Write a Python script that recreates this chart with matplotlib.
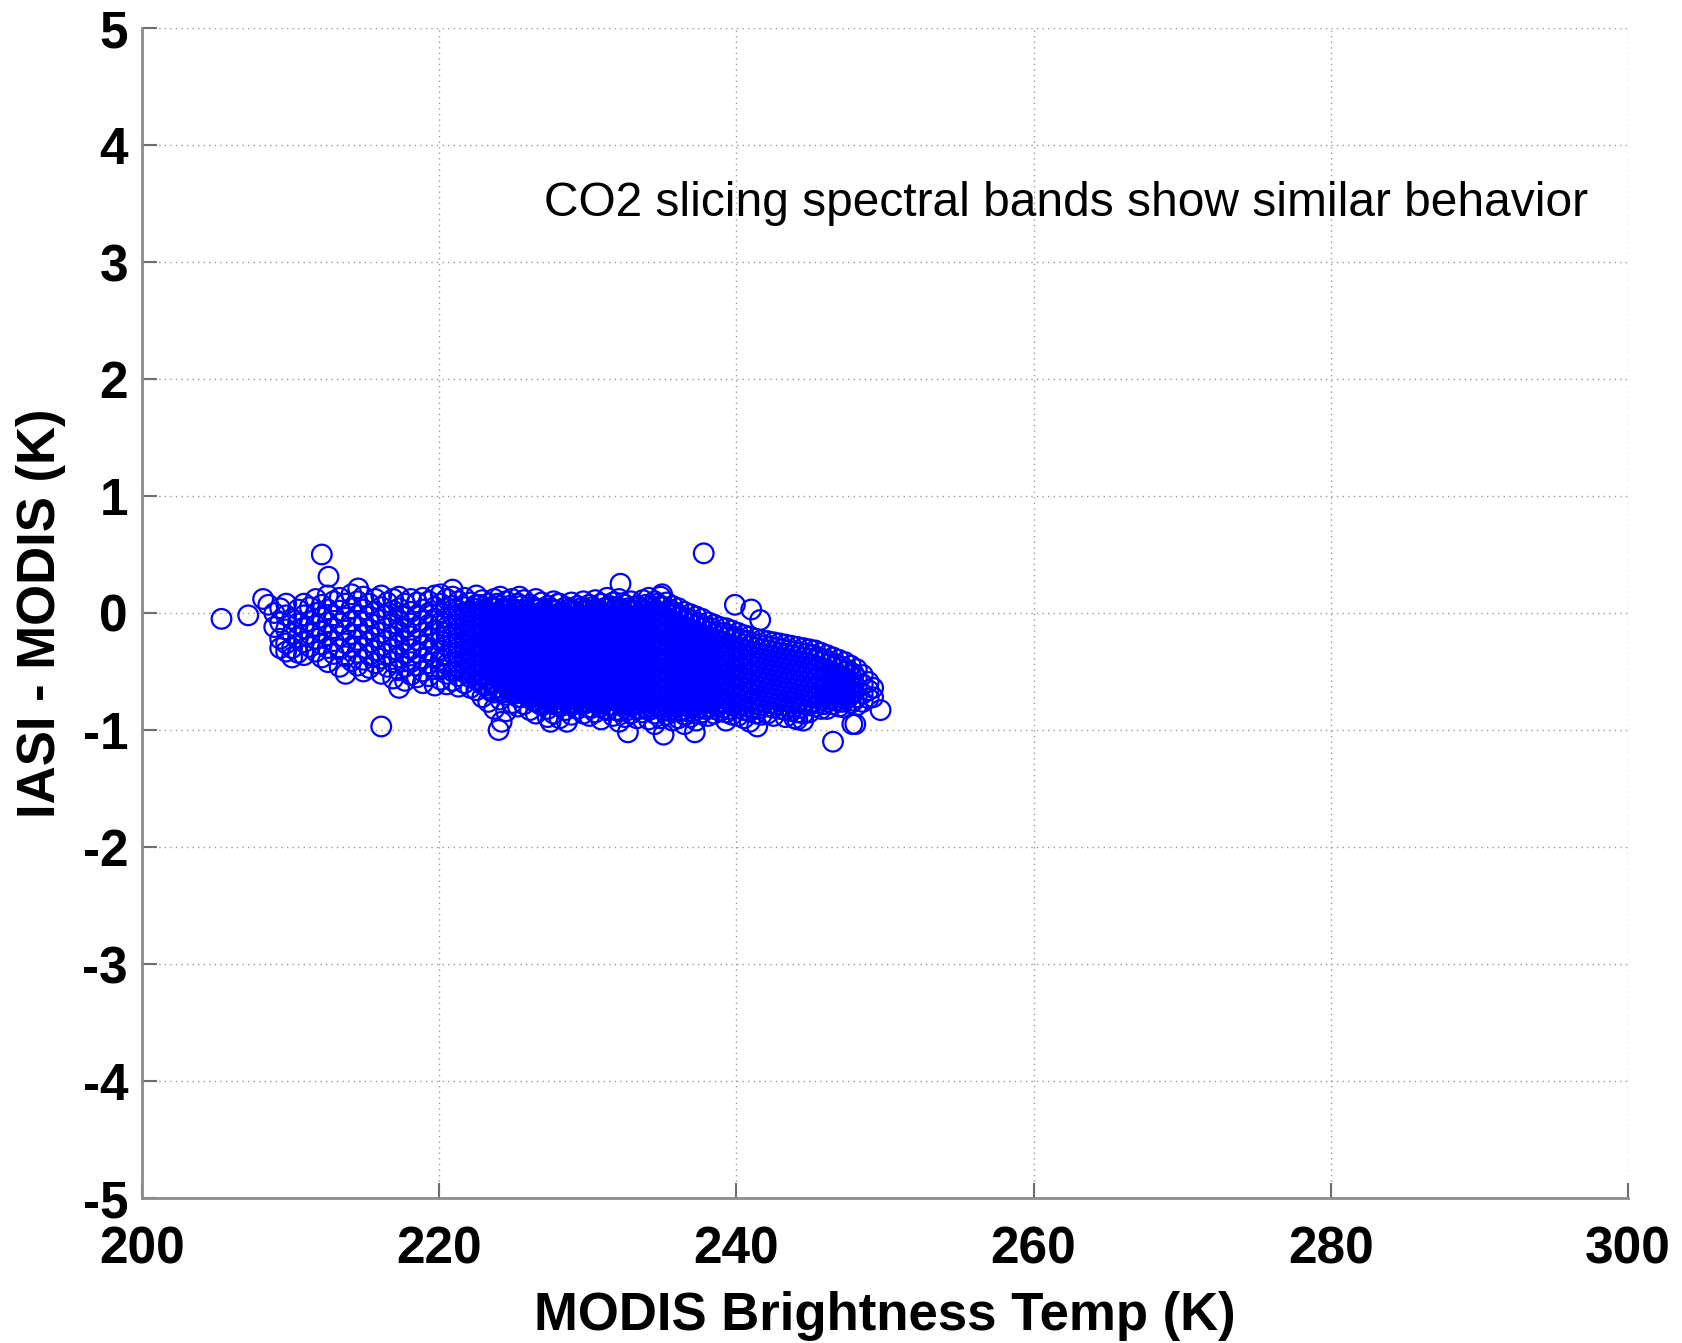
import numpy as np
import matplotlib
matplotlib.use("Agg")
import matplotlib.pyplot as plt

# ---------------------------------------------------------------
# IASI minus MODIS brightness-temperature differences (K)
# ---------------------------------------------------------------

# isolated samples around the main cloud
lone_bt = [205.35, 207.15, 208.15, 208.5, 212.1, 212.55, 214.55, 216.1,
           224.0, 224.2, 232.2, 237.8, 239.9, 241.0, 241.6, 235.1, 237.2,
           232.7, 246.5, 249.7, 248.0, 244.5, 241.4, 227.5, 228.6, 220.9,
           235.0, 225.4, 228.0, 243.9, 247.8]
lone_dif = [-0.05, -0.02, 0.12, 0.07, 0.50, 0.31, 0.21, -0.97,
            -1.00, -0.93, 0.25, 0.51, 0.07, 0.03, -0.06, -1.04, -1.02,
            -1.02, -1.10, -0.83, -0.95, -0.92, -0.97, -0.93, -0.93, 0.20,
            0.16, 0.14, 0.08, -0.90, -0.95]

# cold end of the distribution (208.9 - 219.7 K), one column per MODIS BT
west_bt = [208.9, 209.3, 209.7, 210.1, 210.5, 210.9, 211.3, 211.7, 212.1,
           212.5, 212.9, 213.3, 213.7, 214.1, 214.5, 214.9, 215.3, 215.7,
           216.1, 216.5, 216.9, 217.3, 217.7, 218.1, 218.5, 218.9, 219.3,
           219.7]
west_dif = [
    [0.00, -0.12],
    [0.04, -0.08, -0.22, -0.30],
    [0.08, -0.02, -0.14, -0.26, -0.33],
    [-0.05, -0.18, -0.30, -0.38],
    [0.03, -0.09, -0.21, -0.34],
    [0.08, -0.02, -0.13, -0.25, -0.36],
    [0.05, -0.07, -0.18, -0.29],
    [0.12, 0.00, -0.11, -0.22, -0.33],
    [0.07, -0.04, -0.16, -0.27, -0.38],
    [0.15, 0.03, -0.08, -0.19, -0.30, -0.42],
    [0.10, -0.02, -0.13, -0.24, -0.35],
    [0.13, 0.02, -0.09, -0.20, -0.31, -0.46],
    [0.08, -0.04, -0.15, -0.26, -0.37, -0.52],
    [0.16, 0.04, -0.07, -0.18, -0.29, -0.41],
    [0.10, -0.02, -0.12, -0.23, -0.34, -0.45],
    [0.14, 0.03, -0.08, -0.19, -0.30, -0.40, -0.50],
    [0.08, -0.03, -0.14, -0.25, -0.36, -0.47],
    [0.12, 0.01, -0.10, -0.21, -0.32, -0.43],
    [0.15, 0.05, -0.06, -0.17, -0.28, -0.39, -0.52],
    [0.09, -0.02, -0.13, -0.24, -0.35, -0.46],
    [0.12, 0.02, -0.09, -0.20, -0.31, -0.42, -0.56],
    [0.14, 0.04, -0.06, -0.16, -0.27, -0.38, -0.49, -0.64],
    [0.08, -0.03, -0.13, -0.24, -0.35, -0.46, -0.58],
    [0.12, 0.01, -0.09, -0.20, -0.31, -0.42, -0.53],
    [0.09, -0.02, -0.12, -0.23, -0.34, -0.45, -0.55],
    [0.13, 0.03, -0.07, -0.17, -0.28, -0.39, -0.50, -0.60],
    [0.10, 0.00, -0.10, -0.21, -0.32, -0.43, -0.54],
    [0.15, 0.05, -0.05, -0.15, -0.26, -0.37, -0.48, -0.62],
]

# middle of the distribution (220.1 - 234.9 K)
mid_bt = [220.1, 220.5, 220.9, 221.3, 221.7, 222.1, 222.5, 222.9, 223.3,
          223.7, 224.1, 224.5, 224.9, 225.3, 225.7, 226.1, 226.5, 226.9,
          227.3, 227.7, 228.1, 228.5, 228.9, 229.3, 229.7, 230.1, 230.5,
          230.9, 231.3, 231.7, 232.1, 232.5, 232.9, 233.3, 233.7, 234.1,
          234.5, 234.9]
mid_dif = [
    [0.16, 0.08, 0.00, -0.08, -0.16, -0.24, -0.32, -0.40, -0.48, -0.57],
    [0.12, 0.04, -0.04, -0.12, -0.20, -0.28, -0.36, -0.44, -0.52, -0.61],
    [0.14, 0.06, -0.02, -0.10, -0.18, -0.26, -0.34, -0.42, -0.50, -0.58],
    [0.10, 0.02, -0.06, -0.14, -0.22, -0.30, -0.38, -0.46, -0.54, -0.63],
    [0.13, 0.05, -0.03, -0.11, -0.19, -0.27, -0.35, -0.43, -0.51, -0.60],
    [0.09, 0.01, -0.07, -0.15, -0.23, -0.31, -0.39, -0.47, -0.55, -0.64],
    [0.15, 0.07, -0.01, -0.09, -0.17, -0.25, -0.33, -0.41, -0.49, -0.57, -0.66],
    [0.11, 0.03, -0.05, -0.13, -0.21, -0.29, -0.37, -0.45, -0.53, -0.61, -0.72],
    [0.08, 0.00, -0.08, -0.16, -0.24, -0.32, -0.40, -0.48, -0.56, -0.64, -0.76],
    [0.12, 0.04, -0.04, -0.12, -0.20, -0.28, -0.36, -0.44, -0.52, -0.60, -0.68, -0.82],
    [0.14, 0.06, -0.02, -0.10, -0.18, -0.26, -0.34, -0.42, -0.50, -0.58, -0.66, -0.74],
    [0.10, 0.02, -0.06, -0.14, -0.22, -0.30, -0.38, -0.46, -0.54, -0.62, -0.70, -0.84],
    [0.12, 0.04, -0.04, -0.12, -0.20, -0.28, -0.36, -0.44, -0.52, -0.60, -0.68, -0.77],
    [0.08, 0.00, -0.08, -0.16, -0.24, -0.32, -0.40, -0.48, -0.56, -0.64, -0.72, -0.80],
    [0.11, 0.03, -0.05, -0.13, -0.21, -0.29, -0.37, -0.45, -0.53, -0.61, -0.69, -0.78],
    [0.07, -0.01, -0.09, -0.17, -0.25, -0.33, -0.41, -0.49, -0.57, -0.65, -0.73, -0.83],
    [0.12, 0.04, -0.04, -0.12, -0.20, -0.28, -0.36, -0.44, -0.52, -0.60, -0.68, -0.76, -0.86],
    [0.09, 0.01, -0.07, -0.15, -0.23, -0.31, -0.39, -0.47, -0.55, -0.63, -0.71, -0.79],
    [0.06, -0.02, -0.10, -0.18, -0.26, -0.34, -0.42, -0.50, -0.58, -0.66, -0.74, -0.82, -0.89],
    [0.10, 0.02, -0.06, -0.14, -0.22, -0.30, -0.38, -0.46, -0.54, -0.62, -0.70, -0.78, -0.86],
    [0.08, 0.00, -0.08, -0.16, -0.24, -0.32, -0.40, -0.48, -0.56, -0.64, -0.72, -0.80, -0.90],
    [0.05, -0.03, -0.11, -0.19, -0.27, -0.35, -0.43, -0.51, -0.59, -0.67, -0.75, -0.83],
    [0.09, 0.01, -0.07, -0.15, -0.23, -0.31, -0.39, -0.47, -0.55, -0.63, -0.71, -0.79, -0.87],
    [0.06, -0.02, -0.10, -0.18, -0.26, -0.34, -0.42, -0.50, -0.58, -0.66, -0.74, -0.82],
    [0.10, 0.02, -0.06, -0.14, -0.22, -0.30, -0.38, -0.46, -0.54, -0.62, -0.70, -0.78, -0.86],
    [0.07, -0.01, -0.09, -0.17, -0.25, -0.33, -0.41, -0.49, -0.57, -0.65, -0.73, -0.81, -0.88],
    [0.11, 0.03, -0.05, -0.13, -0.21, -0.29, -0.37, -0.45, -0.53, -0.61, -0.69, -0.77, -0.85],
    [0.08, 0.00, -0.08, -0.16, -0.24, -0.32, -0.40, -0.48, -0.56, -0.64, -0.72, -0.80, -0.91],
    [0.13, 0.05, -0.03, -0.11, -0.19, -0.27, -0.35, -0.43, -0.51, -0.59, -0.67, -0.75, -0.83],
    [0.09, 0.01, -0.07, -0.15, -0.23, -0.31, -0.39, -0.47, -0.55, -0.63, -0.71, -0.79, -0.88],
    [0.12, 0.04, -0.04, -0.12, -0.20, -0.28, -0.36, -0.44, -0.52, -0.60, -0.68, -0.76, -0.84, -0.93],
    [0.07, -0.01, -0.09, -0.17, -0.25, -0.33, -0.41, -0.49, -0.57, -0.65, -0.73, -0.81, -0.89],
    [0.10, 0.02, -0.06, -0.14, -0.22, -0.30, -0.38, -0.46, -0.54, -0.62, -0.70, -0.78, -0.86],
    [0.06, -0.02, -0.10, -0.18, -0.26, -0.34, -0.42, -0.50, -0.58, -0.66, -0.74, -0.82, -0.90],
    [0.11, 0.03, -0.05, -0.13, -0.21, -0.29, -0.37, -0.45, -0.53, -0.61, -0.69, -0.77, -0.85],
    [0.13, 0.05, -0.03, -0.11, -0.19, -0.27, -0.35, -0.43, -0.51, -0.59, -0.67, -0.75, -0.83, -0.91],
    [0.10, 0.02, -0.06, -0.14, -0.22, -0.30, -0.38, -0.46, -0.54, -0.62, -0.70, -0.78, -0.86, -0.95],
    [0.14, 0.06, -0.02, -0.10, -0.18, -0.26, -0.34, -0.42, -0.50, -0.58, -0.66, -0.74, -0.82, -0.90],
]

# warm end of the distribution (235.3 - 249.2 K)
east_bt = [235.3, 235.7, 236.1, 236.5, 236.9, 237.3, 237.7, 238.1, 238.5,
           238.9, 239.3, 239.7, 240.1, 240.5, 240.9, 241.3, 241.7, 242.1,
           242.5, 242.9, 243.3, 243.7, 244.1, 244.5, 244.9, 245.3, 245.7,
           246.1, 246.5, 246.9, 247.3, 247.7, 248.1, 248.5, 248.9, 249.2]
east_dif = [
    [0.09, 0.01, -0.07, -0.15, -0.23, -0.31, -0.39, -0.47, -0.55, -0.63, -0.71, -0.79, -0.87],
    [0.06, -0.02, -0.10, -0.18, -0.26, -0.34, -0.42, -0.50, -0.58, -0.66, -0.74, -0.82, -0.92],
    [0.04, -0.04, -0.12, -0.20, -0.28, -0.36, -0.44, -0.52, -0.60, -0.68, -0.76, -0.84, -0.90],
    [0.01, -0.07, -0.15, -0.23, -0.31, -0.39, -0.47, -0.55, -0.63, -0.71, -0.79, -0.87, -0.95],
    [-0.01, -0.09, -0.17, -0.25, -0.33, -0.41, -0.49, -0.57, -0.65, -0.73, -0.81, -0.89],
    [-0.03, -0.11, -0.19, -0.27, -0.35, -0.43, -0.51, -0.59, -0.67, -0.75, -0.83, -0.92],
    [-0.05, -0.13, -0.21, -0.29, -0.37, -0.45, -0.53, -0.61, -0.69, -0.77, -0.85],
    [-0.08, -0.16, -0.24, -0.32, -0.40, -0.48, -0.56, -0.64, -0.72, -0.80, -0.88],
    [-0.10, -0.18, -0.26, -0.34, -0.42, -0.50, -0.58, -0.66, -0.74, -0.82, -0.86],
    [-0.12, -0.20, -0.28, -0.36, -0.44, -0.52, -0.60, -0.68, -0.76, -0.84],
    [-0.13, -0.21, -0.29, -0.37, -0.45, -0.53, -0.61, -0.69, -0.77, -0.85, -0.92],
    [-0.15, -0.23, -0.31, -0.39, -0.47, -0.55, -0.63, -0.71, -0.79, -0.87],
    [-0.17, -0.25, -0.33, -0.41, -0.49, -0.57, -0.65, -0.73, -0.81, -0.88],
    [-0.19, -0.27, -0.35, -0.43, -0.51, -0.59, -0.67, -0.75, -0.83, -0.90],
    [-0.20, -0.28, -0.36, -0.44, -0.52, -0.60, -0.68, -0.76, -0.84, -0.93],
    [-0.22, -0.30, -0.38, -0.46, -0.54, -0.62, -0.70, -0.78, -0.86],
    [-0.23, -0.31, -0.39, -0.47, -0.55, -0.63, -0.71, -0.79, -0.87],
    [-0.24, -0.32, -0.40, -0.48, -0.56, -0.64, -0.72, -0.80, -0.86],
    [-0.25, -0.33, -0.41, -0.49, -0.57, -0.65, -0.73, -0.81, -0.88],
    [-0.26, -0.34, -0.42, -0.50, -0.58, -0.66, -0.74, -0.82],
    [-0.27, -0.35, -0.43, -0.51, -0.59, -0.67, -0.75, -0.83, -0.89],
    [-0.28, -0.36, -0.44, -0.52, -0.60, -0.68, -0.76, -0.84],
    [-0.29, -0.37, -0.45, -0.53, -0.61, -0.69, -0.77, -0.85, -0.91],
    [-0.30, -0.38, -0.46, -0.54, -0.62, -0.70, -0.78, -0.86],
    [-0.31, -0.39, -0.47, -0.55, -0.63, -0.71, -0.79, -0.85],
    [-0.32, -0.40, -0.48, -0.56, -0.64, -0.72, -0.80],
    [-0.34, -0.42, -0.50, -0.58, -0.66, -0.74, -0.82],
    [-0.36, -0.44, -0.52, -0.60, -0.68, -0.76, -0.82],
    [-0.38, -0.46, -0.54, -0.62, -0.70, -0.78],
    [-0.40, -0.48, -0.56, -0.64, -0.72, -0.80],
    [-0.42, -0.50, -0.58, -0.66, -0.74, -0.81],
    [-0.45, -0.53, -0.61, -0.69, -0.77],
    [-0.48, -0.56, -0.64, -0.72, -0.79],
    [-0.53, -0.61, -0.69, -0.76],
    [-0.59, -0.66, -0.73],
    [-0.64, -0.72],
]

# densest part of the cloud, between the columns above (222.3 - 247.9 K)
core_bt = [222.3, 222.7, 223.1, 223.5, 223.9, 224.3, 224.7, 225.1, 225.5,
           225.9, 226.3, 226.7, 227.1, 227.5, 227.9, 228.3, 228.7, 229.1,
           229.5, 229.9, 230.3, 230.7, 231.1, 231.5, 231.9, 232.3, 232.7,
           233.1, 233.5, 233.9, 234.3, 234.7, 235.1, 235.5, 235.9, 236.3,
           236.7, 237.1, 237.5, 237.9, 238.3, 238.7, 239.1, 239.5, 239.9,
           240.3, 240.7, 241.1, 241.5, 241.9, 242.3, 242.7, 243.1, 243.5,
           243.9, 244.3, 244.7, 245.1, 245.5, 245.9, 246.3, 246.7, 247.1,
           247.5, 247.9]
core_dif = [
    [0.04, -0.04, -0.12, -0.20, -0.28, -0.36, -0.44, -0.52],
    [0.07, -0.01, -0.09, -0.17, -0.25, -0.33, -0.41, -0.49, -0.57],
    [0.02, -0.06, -0.14, -0.22, -0.30, -0.38, -0.46, -0.54, -0.62],
    [0.05, -0.03, -0.11, -0.19, -0.27, -0.35, -0.43, -0.51, -0.59, -0.67],
    [0.08, 0.00, -0.08, -0.16, -0.24, -0.32, -0.40, -0.48, -0.56, -0.64],
    [0.04, -0.04, -0.12, -0.20, -0.28, -0.36, -0.44, -0.52, -0.60, -0.68],
    [0.06, -0.02, -0.10, -0.18, -0.26, -0.34, -0.42, -0.50, -0.58, -0.66],
    [0.03, -0.05, -0.13, -0.21, -0.29, -0.37, -0.45, -0.53, -0.61, -0.69],
    [0.06, -0.02, -0.10, -0.18, -0.26, -0.34, -0.42, -0.50, -0.58, -0.66, -0.72],
    [0.02, -0.06, -0.14, -0.22, -0.30, -0.38, -0.46, -0.54, -0.62, -0.70],
    [0.05, -0.03, -0.11, -0.19, -0.27, -0.35, -0.43, -0.51, -0.59, -0.67, -0.75],
    [0.03, -0.05, -0.13, -0.21, -0.29, -0.37, -0.45, -0.53, -0.61, -0.69, -0.77],
    [0.02, -0.06, -0.14, -0.22, -0.30, -0.38, -0.46, -0.54, -0.62, -0.70, -0.78],
    [0.04, -0.04, -0.12, -0.20, -0.28, -0.36, -0.44, -0.52, -0.60, -0.68, -0.76],
    [0.02, -0.06, -0.14, -0.22, -0.30, -0.38, -0.46, -0.54, -0.62, -0.70, -0.78],
    [0.01, -0.07, -0.15, -0.23, -0.31, -0.39, -0.47, -0.55, -0.63, -0.71, -0.79],
    [0.03, -0.05, -0.13, -0.21, -0.29, -0.37, -0.45, -0.53, -0.61, -0.69, -0.77],
    [0.02, -0.06, -0.14, -0.22, -0.30, -0.38, -0.46, -0.54, -0.62, -0.70, -0.78],
    [0.04, -0.04, -0.12, -0.20, -0.28, -0.36, -0.44, -0.52, -0.60, -0.68, -0.76],
    [0.03, -0.05, -0.13, -0.21, -0.29, -0.37, -0.45, -0.53, -0.61, -0.69, -0.77],
    [0.05, -0.03, -0.11, -0.19, -0.27, -0.35, -0.43, -0.51, -0.59, -0.67, -0.75, -0.81],
    [0.02, -0.06, -0.14, -0.22, -0.30, -0.38, -0.46, -0.54, -0.62, -0.70, -0.78],
    [0.04, -0.04, -0.12, -0.20, -0.28, -0.36, -0.44, -0.52, -0.60, -0.68, -0.76, -0.82],
    [0.06, -0.02, -0.10, -0.18, -0.26, -0.34, -0.42, -0.50, -0.58, -0.66, -0.74],
    [0.05, -0.03, -0.11, -0.19, -0.27, -0.35, -0.43, -0.51, -0.59, -0.67, -0.75, -0.83],
    [0.03, -0.05, -0.13, -0.21, -0.29, -0.37, -0.45, -0.53, -0.61, -0.69, -0.77],
    [0.04, -0.04, -0.12, -0.20, -0.28, -0.36, -0.44, -0.52, -0.60, -0.68, -0.76, -0.83],
    [0.02, -0.06, -0.14, -0.22, -0.30, -0.38, -0.46, -0.54, -0.62, -0.70, -0.78],
    [0.05, -0.03, -0.11, -0.19, -0.27, -0.35, -0.43, -0.51, -0.59, -0.67, -0.75, -0.82],
    [0.07, -0.01, -0.09, -0.17, -0.25, -0.33, -0.41, -0.49, -0.57, -0.65, -0.73, -0.81],
    [0.06, -0.02, -0.10, -0.18, -0.26, -0.34, -0.42, -0.50, -0.58, -0.66, -0.74, -0.82],
    [0.08, 0.00, -0.08, -0.16, -0.24, -0.32, -0.40, -0.48, -0.56, -0.64, -0.72, -0.80],
    [0.05, -0.03, -0.11, -0.19, -0.27, -0.35, -0.43, -0.51, -0.59, -0.67, -0.75, -0.83],
    [0.03, -0.05, -0.13, -0.21, -0.29, -0.37, -0.45, -0.53, -0.61, -0.69, -0.77, -0.84],
    [0.00, -0.08, -0.16, -0.24, -0.32, -0.40, -0.48, -0.56, -0.64, -0.72, -0.80],
    [-0.03, -0.11, -0.19, -0.27, -0.35, -0.43, -0.51, -0.59, -0.67, -0.75, -0.83],
    [-0.05, -0.13, -0.21, -0.29, -0.37, -0.45, -0.53, -0.61, -0.69, -0.77, -0.84],
    [-0.07, -0.15, -0.23, -0.31, -0.39, -0.47, -0.55, -0.63, -0.71, -0.79],
    [-0.09, -0.17, -0.25, -0.33, -0.41, -0.49, -0.57, -0.65, -0.73, -0.81],
    [-0.12, -0.20, -0.28, -0.36, -0.44, -0.52, -0.60, -0.68, -0.76, -0.82],
    [-0.13, -0.21, -0.29, -0.37, -0.45, -0.53, -0.61, -0.69, -0.77],
    [-0.16, -0.24, -0.32, -0.40, -0.48, -0.56, -0.64, -0.72, -0.80],
    [-0.17, -0.25, -0.33, -0.41, -0.49, -0.57, -0.65, -0.73, -0.81],
    [-0.19, -0.27, -0.35, -0.43, -0.51, -0.59, -0.67, -0.75, -0.82],
    [-0.21, -0.29, -0.37, -0.45, -0.53, -0.61, -0.69, -0.77],
    [-0.23, -0.31, -0.39, -0.47, -0.55, -0.63, -0.71, -0.79],
    [-0.24, -0.32, -0.40, -0.48, -0.56, -0.64, -0.72, -0.80],
    [-0.26, -0.34, -0.42, -0.50, -0.58, -0.66, -0.74, -0.81],
    [-0.27, -0.35, -0.43, -0.51, -0.59, -0.67, -0.75, -0.82],
    [-0.28, -0.36, -0.44, -0.52, -0.60, -0.68, -0.76],
    [-0.29, -0.37, -0.45, -0.53, -0.61, -0.69, -0.77],
    [-0.30, -0.38, -0.46, -0.54, -0.62, -0.70, -0.78],
    [-0.31, -0.39, -0.47, -0.55, -0.63, -0.71, -0.79],
    [-0.32, -0.40, -0.48, -0.56, -0.64, -0.72, -0.80],
    [-0.33, -0.41, -0.49, -0.57, -0.65, -0.73, -0.80],
    [-0.34, -0.42, -0.50, -0.58, -0.66, -0.74, -0.81],
    [-0.35, -0.43, -0.51, -0.59, -0.67, -0.75],
    [-0.36, -0.44, -0.52, -0.60, -0.68, -0.76],
    [-0.38, -0.46, -0.54, -0.62, -0.70, -0.77],
    [-0.40, -0.48, -0.56, -0.64, -0.72, -0.78],
    [-0.42, -0.50, -0.58, -0.66, -0.74],
    [-0.44, -0.52, -0.60, -0.68, -0.75],
    [-0.46, -0.54, -0.62, -0.70, -0.76],
    [-0.49, -0.57, -0.65, -0.73],
    [-0.52, -0.60, -0.68, -0.75],
]

x_ticks = [200, 220, 240, 260, 280, 300]
y_ticks = [-5, -4, -3, -2, -1, 0, 1, 2, 3, 4, 5]
note_text = "CO2 slicing spectral bands show similar behavior"


def flatten(bt_cols, dif_cols):
    bt = [b for b, col in zip(bt_cols, dif_cols) for _ in col]
    dif = [d for col in dif_cols for d in col]
    return bt, dif


bt_all, dif_all = list(lone_bt), list(lone_dif)
for cols in ((west_bt, west_dif), (mid_bt, mid_dif), (east_bt, east_dif),
             (core_bt, core_dif)):
    b, d = flatten(*cols)
    bt_all += b
    dif_all += d

W, H = 1682, 1343
fig = plt.figure(figsize=(W / 100, H / 100), dpi=100)
fig.patch.set_facecolor("white")
ax = fig.add_axes([142 / W, 1 - 1198 / H, 1486 / W, 1170 / H])

ax.scatter(bt_all, dif_all, s=200, marker="o", facecolors="none",
           edgecolors="#0000ff", linewidths=1.6, zorder=3)

ax.set_xlim(200, 300)
ax.set_ylim(-5, 5)
ax.set_xticks(x_ticks)
ax.set_yticks(y_ticks)
ax.set_xticklabels([str(t) for t in x_ticks])
ax.set_yticklabels([str(t) for t in y_ticks])

ax.grid(True, linestyle=(0, (1, 3)), color="#9a9a9a", linewidth=1.0, zorder=0)
ax.set_axisbelow(True)

for side in ("top", "right"):
    ax.spines[side].set_visible(False)
for side in ("left", "bottom"):
    ax.spines[side].set_color("#8c8c8c")
    ax.spines[side].set_linewidth(2.0)

tick_font = dict(family="Liberation Sans", weight="bold", size=37)
ax.tick_params(axis="both", direction="in", length=11, width=1.5,
               color="#6e6e6e")
ax.tick_params(axis="x", pad=20)
ax.tick_params(axis="y", pad=10)
for lab in ax.get_xticklabels() + ax.get_yticklabels():
    lab.set_fontfamily("Liberation Sans")
    lab.set_fontweight("bold")
    lab.set_fontsize(37)

ax.set_xlabel("MODIS Brightness Temp (K)", fontdict=dict(tick_font, size=38),
              labelpad=12)
ax.set_ylabel("IASI - MODIS (K)", fontdict=dict(tick_font, size=38),
              labelpad=12)

ax.text(227.05, 3.39, note_text, family="Liberation Sans", fontsize=34.5,
        color="black", ha="left", va="baseline", zorder=4)

fig.savefig("out.png", dpi=100, facecolor="white")
